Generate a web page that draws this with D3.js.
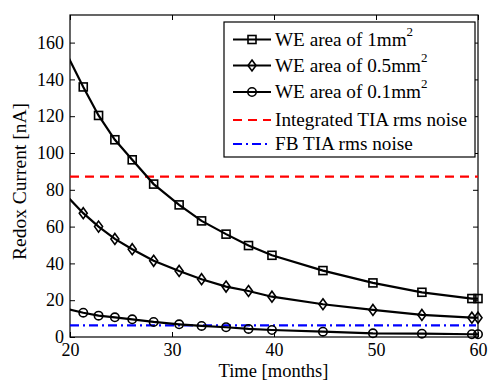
<!DOCTYPE html>
<html><head><meta charset="utf-8">
<script src="https://cdn.jsdelivr.net/npm/d3@7"></script>
<style>body{margin:0;background:#fff}text{font-family:"Liberation Serif","DejaVu Serif",serif;fill:#000}</style>
</head><body><svg id="c" width="490" height="380"></svg>
<script>
const months = [19.8, 21.3, 22.8, 24.4, 26.1, 28.2, 30.7, 32.9, 35.3, 37.5, 39.8, 44.8, 49.7, 54.5, 59.4, 60];
const area1 = [152.5, 135.9, 120.4, 107.2, 96.3, 83.1, 71.8, 63.1, 55.9, 49.7, 44.4, 36.1, 29.4, 24.3, 20.9, 20.9];
const area05 = [76.0, 67.3, 60.0, 53.3, 47.7, 41.4, 35.9, 31.4, 27.4, 25.0, 21.9, 17.8, 14.7, 12.0, 10.5, 10.5];
const area01 = [15.2, 13.2, 11.6, 10.7, 9.6, 8.2, 6.9, 6.0, 5.3, 4.4, 3.8, 2.9, 2.0, 1.8, 1.5, 1.5];
const integratedNoise = 87.2;
const fbNoise = 6.3;
const xTicks = [20, 30, 40, 50, 60];
const yTicks = [0, 20, 40, 60, 80, 100, 120, 140, 160];
const seriesNames = ["WE area of 1mm", "WE area of 0.5mm", "WE area of 0.1mm", "Integrated TIA rms noise", "FB TIA rms noise"];

const L = 70, R = 478, T = 15, B = 337;
const svg = d3.select("#c");
const x = d3.scaleLinear().domain([20, 60]).range([L, R]);
const y = d3.scaleLinear().domain([0, 175]).range([B, T]);

svg.append("defs").append("clipPath").attr("id", "clip")
  .append("rect").attr("x", L).attr("y", T).attr("width", R - L).attr("height", B - T);

// axes
const ax = svg.append("g");
ax.append("g").attr("transform", `translate(0,${B})`)
  .call(d3.axisBottom(x).tickValues(xTicks).tickSizeInner(-5).tickSizeOuter(0).tickPadding(6));
ax.append("g").attr("transform", `translate(0,${T})`)
  .call(d3.axisTop(x).tickValues(xTicks).tickSizeInner(-5).tickSizeOuter(0).tickFormat(""));
ax.append("g").attr("transform", `translate(${L},0)`)
  .call(d3.axisLeft(y).tickValues(yTicks).tickSizeInner(-5).tickSizeOuter(0).tickPadding(6));
ax.append("g").attr("transform", `translate(${R},0)`)
  .call(d3.axisRight(y).tickValues(yTicks).tickSizeInner(-5).tickSizeOuter(0).tickFormat(""));
ax.selectAll(".domain").remove();
ax.selectAll("line").attr("stroke", "#000");
ax.selectAll("text").attr("font-size", 18).attr("fill", "#000");
svg.append("rect").attr("x", L).attr("y", T).attr("width", R - L).attr("height", B - T)
  .attr("fill", "none").attr("stroke", "#000").attr("stroke-width", 1.2);

const plot = svg.append("g");
const line = d3.line().x((d, i) => x(months[i])).y(d => y(d));

// noise lines
plot.append("line").attr("x1", x(20)).attr("x2", x(60)).attr("y1", y(integratedNoise)).attr("y2", y(integratedNoise))
  .attr("stroke", "#ff0000").attr("stroke-width", 2.2).attr("stroke-dasharray", "9,6");
plot.append("line").attr("x1", x(20)).attr("x2", x(60) - 2).attr("y1", y(fbNoise)).attr("y2", y(fbNoise))
  .attr("stroke", "#0000ff").attr("stroke-width", 2.2).attr("stroke-dasharray", "9,4,2,4");

function marker(g, type, cx, cy) {
  const s = g.append("g").attr("transform", `translate(${cx},${cy})`);
  if (type === "square") s.append("rect").attr("x", -4).attr("y", -4).attr("width", 8).attr("height", 8);
  else if (type === "diamond") s.append("path").attr("d", "M0,-5.5L4,0L0,5.5L-4,0Z");
  else s.append("circle").attr("r", 4.2);
  s.selectAll("*").attr("fill", "none").attr("stroke", "#000").attr("stroke-width", 1.6);
}

const series = [[area1, "square"], [area05, "diamond"], [area01, "circle"]];
series.forEach(([vals, type]) => {
  plot.append("path").datum(vals).attr("d", line).attr("clip-path", "url(#clip)")
    .attr("fill", "none").attr("stroke", "#000").attr("stroke-width", 2.2);
  vals.forEach((v, i) => {
    if (months[i] >= 20 && months[i] <= 60) marker(plot, type, x(months[i]), y(v));
  });
});

// legend
const lg = svg.append("g");
lg.append("rect").attr("x", 224).attr("y", 22).attr("width", 251).attr("height", 135)
  .attr("fill", "#fff").attr("stroke", "#000").attr("stroke-width", 1.2);
const rows = [39.5, 65.5, 92, 120, 144];
const lx1 = 233, lx2 = 271, tx = 275;
rows.forEach((ry, i) => {
  const l = lg.append("line").attr("x1", lx1).attr("x2", lx2).attr("y1", ry).attr("y2", ry).attr("stroke-width", 2.2);
  if (i < 3) { l.attr("stroke", "#000"); marker(lg, series[i][1], (lx1 + lx2) / 2, ry); }
  else if (i === 3) l.attr("stroke", "#ff0000").attr("stroke-dasharray", "9,6");
  else l.attr("stroke", "#0000ff").attr("stroke-dasharray", "9,4,2,4");
  const t = lg.append("text").attr("x", tx).attr("y", ry + 6).attr("font-size", 19.2).text(seriesNames[i]);
  if (i < 3) t.append("tspan").attr("font-size", 13).attr("dy", -10).text("2");
});

// axis labels
svg.append("text").attr("x", 273.5).attr("y", 377).attr("text-anchor", "middle").attr("font-size", 18.5).text("Time [months]");
svg.append("text").attr("transform", `translate(26,181.5) rotate(-90)`).attr("text-anchor", "middle")
  .attr("font-size", 19.5).text("Redox Current [nA]");
</script></body></html>
